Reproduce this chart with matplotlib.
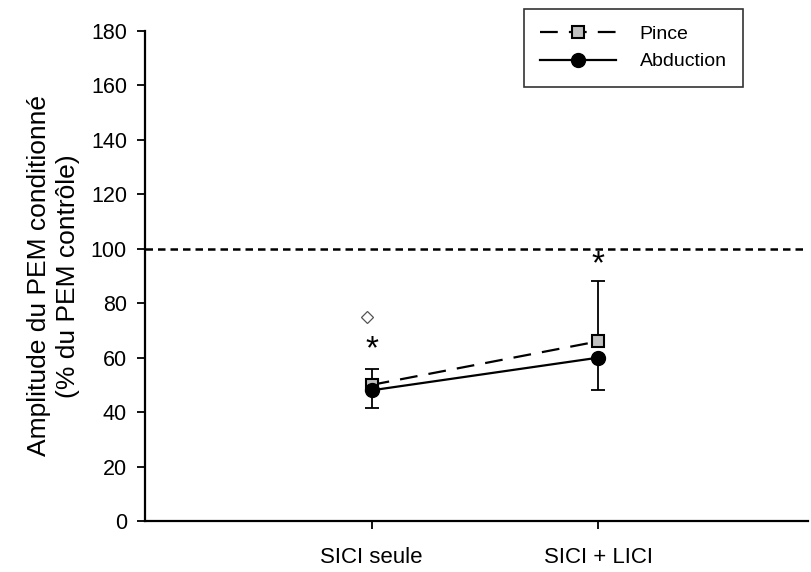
import numpy as np
from matplotlib import pyplot as plt

plt.rcParams['font.family'] = ['Liberation Sans', 'DejaVu Sans']

conditions = ["SICI seule", "SICI + LICI"]
pince = [50, 66]
pince_err_up = [6, 22]
abduction = [48, 60]
abduction_err_down = [6.5, 12]
stars_y = [63, 94]          # significance vs. control
diamond_y = [75]            # Pince vs. Abduction difference
control_level = 100

xpos = np.arange(1, len(conditions) + 1)

fig = plt.figure(figsize=(8.11, 5.72), dpi=100)
ax = fig.add_axes([0.1788, 0.0892, 0.8175, 0.8566])

# control reference line
ax.axhline(control_level, color='black', lw=1.8, ls=(0, (3, 2)), zorder=1)

# one-sided error bars: up for Pince, down for Abduction
ax.errorbar(xpos, pince, yerr=[np.zeros(2), pince_err_up], fmt='none',
            ecolor='black', elinewidth=1.3, capsize=5, capthick=1.3, zorder=2)
ax.errorbar(xpos, abduction, yerr=[abduction_err_down, np.zeros(2)], fmt='none',
            ecolor='black', elinewidth=1.3, capsize=5, capthick=1.3, zorder=2)

ax.plot(xpos, pince, color='black', lw=1.6, ls=(0, (8, 5)), marker='s',
        markersize=8.5, markerfacecolor='#c0c0c0', markeredgecolor='black',
        markeredgewidth=1.5, label='Pince', zorder=3)
ax.plot(xpos, abduction, color='black', lw=1.6, ls='-', marker='o',
        markersize=10, markerfacecolor='black', markeredgecolor='black',
        label='Abduction', zorder=4)

for x, y in zip(xpos, stars_y):
    ax.text(x, y, '*', ha='center', va='center', fontsize=24)
ax.plot(xpos[0] - 0.02, diamond_y[0], marker='D', markersize=6,
        markerfacecolor='white', markeredgecolor='#555555', markeredgewidth=0.9,
        ls='none')

ax.set_xlim(0, 2.925)
ax.set_ylim(0, 180)
ax.set_yticks(np.arange(0, 181, 20))
ax.set_xticks(xpos)
ax.set_xticklabels(conditions)
ax.spines['top'].set_visible(False)
ax.spines['right'].set_visible(False)
ax.spines['left'].set_linewidth(1.6)
ax.spines['bottom'].set_linewidth(1.6)
ax.tick_params(axis='both', direction='out', length=6, width=1.3, labelsize=15.5)
ax.tick_params(axis='y', pad=7)
ax.tick_params(axis='x', pad=13, labelsize=16)
ax.set_ylabel("Amplitude du PEM conditionné\n(% du PEM contrôle)", fontsize=19,
              linespacing=1.25)
ax.yaxis.set_label_coords(-0.098, 0.5)

leg = ax.legend(loc='upper left', bbox_to_anchor=(0.5715, 1.045), fontsize=14,
                handlelength=3.9, frameon=True, fancybox=False,
                edgecolor='black', borderpad=0.85, labelspacing=0.5,
                handletextpad=1.2, borderaxespad=0)
leg.get_frame().set_linewidth(1.2)

plt.savefig("out.png", dpi=100)
